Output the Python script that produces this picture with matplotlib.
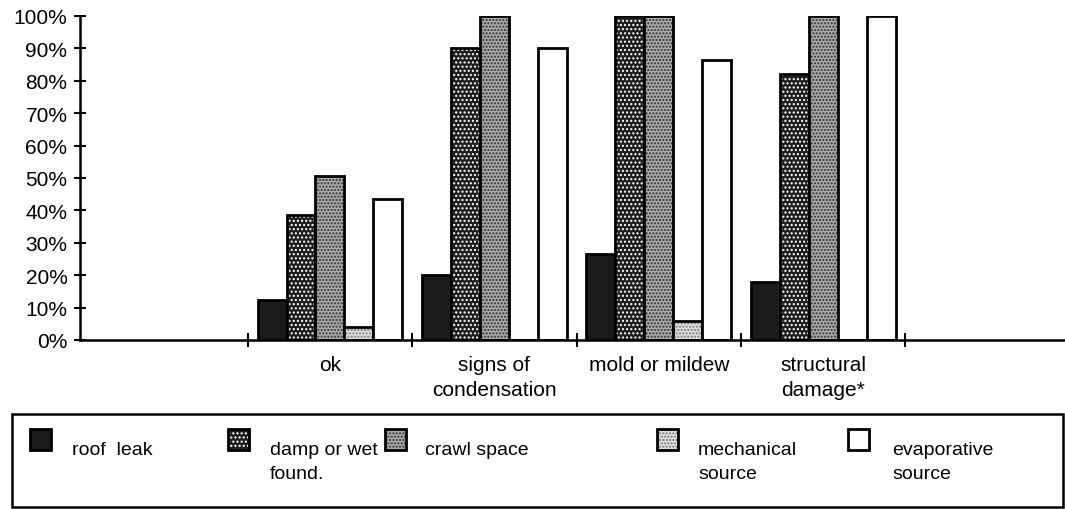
import numpy as np
import matplotlib.pyplot as plt
from matplotlib.patches import Rectangle

plt.rcParams['font.family'] = ['Liberation Sans', 'DejaVu Sans']
plt.rcParams['hatch.linewidth'] = 1.0

# Data (percent)
categories = ['', 'ok', 'signs of\ncondensation', 'mold or mildew', 'structural\ndamage*', '']
series = ['roof  leak', 'damp or wet\nfound.', 'crawl space', 'mechanical\nsource', 'evaporative\nsource']
roof_leak = [12.5, 20, 26.5, 18]
damp_found = [38.5, 90, 100, 82]
crawl_space = [50.5, 100, 100, 100]
mechanical = [4, 0, 6, 0]
evaporative = [43.5, 90, 86.5, 100]
values = [roof_leak, damp_found, crawl_space, mechanical, evaporative]

# styles: face, hatch, hatch colour
styles = [('#1a1a1a', None, None),
          ('#1e1e1e', '....', 'white'),
          ('#a8a8a8', '.....', '#303030'),
          ('#dedede', '.....', '#777777'),
          ('#ffffff', None, None)]

fig = plt.figure(figsize=(10.65, 5.1), dpi=100)
ax = fig.add_axes([80 / 1065, 1 - 341 / 510, 985 / 1065, 324 / 510])

w = 0.176
x = np.arange(1, 5)
for j, vals in enumerate(values):
    face, hatch, hcol = styles[j]
    pos = x + (j - 2) * w
    if hatch:
        ax.bar(pos, vals, w, color=face, edgecolor=hcol, hatch=hatch, linewidth=0)
    ax.bar(pos, vals, w, facecolor=face if not hatch else 'none',
           edgecolor='black', linewidth=2.0)

ax.set_xlim(-0.52, 5.47)
ax.set_ylim(0, 100)
ax.spines['top'].set_visible(False)
ax.spines['right'].set_visible(False)
ax.spines['left'].set_linewidth(1.8)
ax.spines['bottom'].set_linewidth(1.8)

ax.set_yticks(np.arange(0, 101, 10))
ax.set_yticklabels([f'{v}%' for v in range(0, 101, 10)], fontsize=15)
ax.tick_params(axis='y', direction='inout', length=8, width=1.5, pad=5)

ax.set_xticks(np.arange(6))
ax.set_xticklabels(categories, fontsize=15, linespacing=1.35)
ax.tick_params(axis='x', which='major', length=0, pad=11)
ax.set_xticks(np.arange(0.5, 5, 1), minor=True)
ax.tick_params(axis='x', which='minor', direction='inout', length=10, width=1.5)

# legend box
fig.patches.append(Rectangle((12 / 1065, 1 - 508 / 510), 1051 / 1065, 93 / 510,
                             transform=fig.transFigure, facecolor='none',
                             edgecolor='black', linewidth=1.8))
sq_x = [30, 228, 385, 657, 848]
txt_x = [72, 270, 425, 698, 892]
for j, name in enumerate(series):
    face, hatch, hcol = styles[j]
    sx = sq_x[j] / 1065
    sy = 1 - 451 / 510
    sw, sh = 21 / 1065, 21 / 510
    if hatch:
        fig.patches.append(Rectangle((sx, sy), sw, sh, transform=fig.transFigure,
                                     facecolor=face, edgecolor=hcol, hatch=hatch,
                                     linewidth=0))
    fig.patches.append(Rectangle((sx, sy), sw, sh, transform=fig.transFigure,
                                 facecolor=face if not hatch else 'none',
                                 edgecolor='black', linewidth=2.0))
    fig.text(txt_x[j] / 1065, 1 - 442 / 510, name, fontsize=14, va='top',
             ha='left', linespacing=1.55)

fig.savefig('out.png', dpi=100)
